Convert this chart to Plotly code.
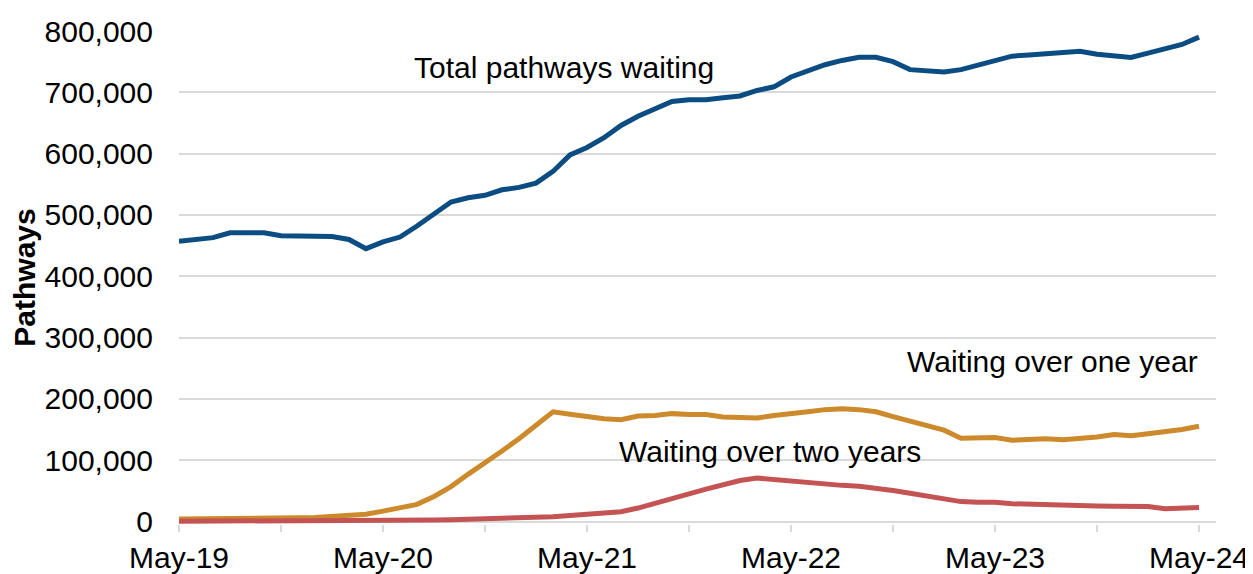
import plotly.graph_objects as go

months = [
    "May-19", "Jun-19", "Jul-19", "Aug-19", "Sep-19", "Oct-19", "Nov-19", "Dec-19", "Jan-20", "Feb-20", "Mar-20", "Apr-20",
    "May-20", "Jun-20", "Jul-20", "Aug-20", "Sep-20", "Oct-20", "Nov-20", "Dec-20", "Jan-21", "Feb-21", "Mar-21", "Apr-21",
    "May-21", "Jun-21", "Jul-21", "Aug-21", "Sep-21", "Oct-21", "Nov-21", "Dec-21", "Jan-22", "Feb-22", "Mar-22", "Apr-22",
    "May-22", "Jun-22", "Jul-22", "Aug-22", "Sep-22", "Oct-22", "Nov-22", "Dec-22", "Jan-23", "Feb-23", "Mar-23", "Apr-23",
    "May-23", "Jun-23", "Jul-23", "Aug-23", "Sep-23", "Oct-23", "Nov-23", "Dec-23", "Jan-24", "Feb-24", "Mar-24", "Apr-24",
    "May-24",
]

total_waiting = [
    457000, 460000, 463000, 471000, 470000, 471000, 466000, 466000, 465000, 465000,
    460000, 445000, 456000, 464000, 482000, 502000, 521000, 528000, 532000, 541000,
    545000, 552000, 571000, 598000, 610000, 626000, 646000, 661000, 673000, 685000,
    688000, 688000, 691000, 694000, 703000, 709000, 725000, 736000, 745000, 752000,
    757000, 757000, 750000, 737000, 736000, 733000, 737000, 745000, 752000, 759000,
    761000, 763000, 764000, 767000, 762000, 759000, 757000, 764000, 771000, 778000,
    790000,
]

over_one_year = [
    4000, 4000, 4500, 4500, 5000, 5000, 5500, 6000, 6500, 9000,
    10000, 12000, 17000, 22000, 28000, 41000, 57000, 77000, 95000, 115000,
    135000, 157000, 179000, 175000, 171000, 167500, 166000, 172000, 173000, 176000,
    174500, 174500, 170500, 169000, 169000, 173000, 177000, 179000, 182500, 184000,
    182500, 179000, 171000, 163000, 156000, 149000, 136000, 137000, 137000, 132500,
    133500, 135000, 133500, 135000, 138000, 142000, 140000, 143000, 145500, 150000,
    155500,
]

over_two_years = [
    500, 500, 500, 500, 500, 500, 500, 500, 500, 500,
    800, 1000, 1200, 1500, 2000, 2500, 3000, 3500, 4000, 5000,
    6000, 7000, 8000, 10000, 11500, 13000, 16000, 22000, 29000, 37000,
    45000, 53000, 60000, 67000, 71000, 68500, 65000, 62000, 60000, 59000,
    57500, 55000, 50500, 46000, 42000, 38000, 32500, 31500, 31500, 29000,
    28000, 27000, 27000, 26000, 25500, 25000, 24500, 24500, 21000, 21700,
    22800,
]

series_names = ["Total pathways waiting", "Waiting over one year", "Waiting over two years"]
series_colors = ["#0B4C82", "#CD8A2C", "#C45354"]

tick_months = ["May-19", "Nov-19", "May-20", "Nov-20", "May-21", "Nov-21", "May-22",
               "Nov-22", "May-23", "Nov-23", "May-24"]
tick_text = [m if m.startswith("May") else "" for m in tick_months]

FONT = "Liberation Sans, Arial, sans-serif"

fig = go.Figure()
for name, vals, col in zip(series_names, [total_waiting, over_one_year, over_two_years], series_colors):
    fig.add_trace(go.Scatter(x=months, y=vals, mode="lines", name=name,
                             line=dict(color=col, width=5), hoverinfo="x+y"))

# Series labels
fig.add_annotation(text="Total pathways waiting", xref="paper", yref="paper",
                   x=0.2247, y=0.925, xanchor="left", yanchor="middle", showarrow=False)
fig.add_annotation(text="Waiting over one year", xref="paper", yref="paper",
                   x=0.700, y=0.330, xanchor="left", yanchor="middle", showarrow=False)
fig.add_annotation(text="Waiting over two years", xref="paper", yref="paper",
                   x=0.4224, y=0.1465, xanchor="left", yanchor="middle", showarrow=False)

# The page body has an 8px margin, so the figure is sized to fit the window.
fig.update_layout(
    width=1245, height=566,
    margin=dict(l=171, r=37, t=23, b=49.5),
    paper_bgcolor="white", plot_bgcolor="white",
    font=dict(family=FONT, size=30, color="black"),
    showlegend=False,
    xaxis=dict(
        type="category", categoryorder="array", categoryarray=months,
        range=[0, 61], automargin=False,
        tickmode="array", tickvals=tick_months, ticktext=tick_text,
        showgrid=False, showline=False, zeroline=False,
        ticks="outside", ticklen=7, tickwidth=1.5, tickcolor="#D9D9D9",
        tickfont=dict(size=30), ticklabelstandoff=0,
    ),
    yaxis=dict(
        range=[-4000, 800000], tickmode="array", automargin=False,
        tickvals=[0, 100000, 200000, 300000, 400000, 500000, 600000, 700000, 800000],
        tickformat=",", showgrid=True, gridcolor="#D9D9D9", gridwidth=1.5,
        zeroline=True, zerolinecolor="#D9D9D9", zerolinewidth=1.5,
        showline=False, ticks="", ticklabelstandoff=25,
        tickfont=dict(size=30),
        title=dict(text="<b>Pathways</b>", font=dict(size=30), standoff=14),
    ),
)

fig.write_html("out.html")
